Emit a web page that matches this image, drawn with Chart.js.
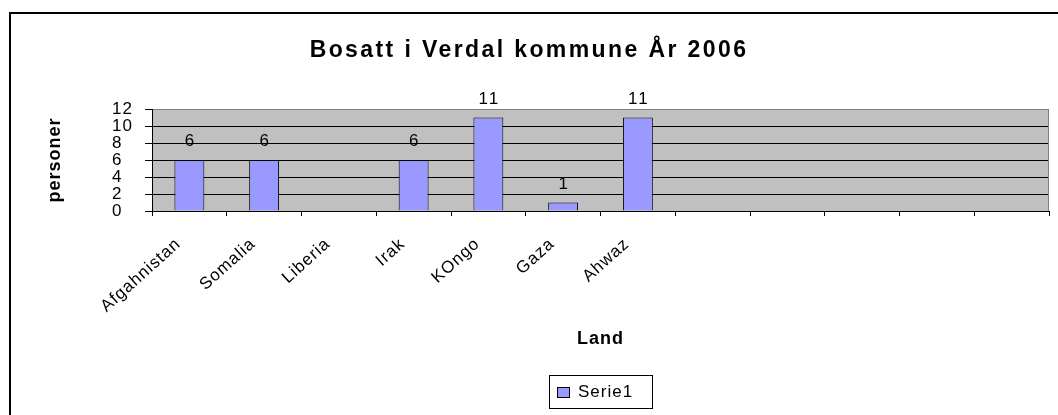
<!DOCTYPE html>
<html>
<head>
<meta charset="utf-8">
<title>Bosatt i Verdal kommune</title>
<script src="https://cdn.jsdelivr.net/npm/chart.js@4"></script>
<style>
    html, body { margin: 0; padding: 0; background: #fff; }
    canvas { display: block; }
</style>
</head>
<body>
<canvas id="chart" width="1058" height="415"></canvas>
<script>
// Data
const chartTitle = 'Bosatt i Verdal kommune År 2006';
const categories = ['Afgahnistan', 'Somalia', 'Liberia', 'Irak', 'KOngo', 'Gaza', 'Ahwaz', '', '', '', '', ''];
const serie1 = [6, 6, null, 6, 11, 1, 11, null, null, null, null, null];
const yTickValues = [0, 2, 4, 6, 8, 10, 12];
const seriesName = 'Serie1';
const xTitle = 'Land';
const yTitle = 'personer';

const FONT = '"Liberation Sans", Arial, sans-serif';
const BAR_COLOR = '#9999ff';

// Excel-ish extras: frame, grey plot area, title, value labels, boxed legend
const excelLook = {
    id: 'excelLook',
    beforeDraw(chart) {
        const { ctx, chartArea: a, width, height } = chart;
        ctx.save();
        ctx.fillStyle = '#fff';
        ctx.fillRect(0, 0, width, height);
        ctx.fillStyle = '#c0c0c0';
        ctx.fillRect(a.left, a.top, a.right - a.left, a.bottom - a.top);
        // outer frame (top + left only, the rest is cut off)
        ctx.fillStyle = '#000';
        ctx.fillRect(9, 12, width - 9, 2);
        ctx.fillRect(9, 12, 2, height - 12);
        // title
        ctx.font = 'bold 23px ' + FONT;
        ctx.letterSpacing = '2.4px';
        ctx.textAlign = 'center';
        ctx.textBaseline = 'middle';
        ctx.fillText(chartTitle, 529, 51);
        ctx.restore();
        // axis texts in the reference are a bit spread out
        ctx.letterSpacing = '1px';
    },
    afterDatasetsDraw(chart) {
        const { ctx } = chart;
        const meta = chart.getDatasetMeta(0);
        ctx.save();
        ctx.font = '17px ' + FONT;
        ctx.letterSpacing = '2px';
        ctx.fillStyle = '#000';
        ctx.textAlign = 'center';
        ctx.textBaseline = 'middle';
        meta.data.forEach((bar, i) => {
            const v = serie1[i];
            if (v === null) return;
            ctx.fillText(String(v), bar.x + 1, bar.y - 18.5);
        });
        ctx.restore();
    },
    afterDraw(chart) {
        const { ctx, chartArea: a } = chart;
        ctx.save();
        // plot area right border
        ctx.strokeStyle = '#808080';
        ctx.lineWidth = 1;
        ctx.beginPath();
        ctx.moveTo(a.right - 0.5, a.top);
        ctx.lineTo(a.right - 0.5, a.bottom);
        ctx.stroke();

        // legend box
        const ds = chart.data.datasets[0];
        const w = 103, h = 33;
        const left = Math.round((a.left + a.right) / 2 - w / 2);
        const top = 375;
        ctx.fillStyle = '#fff';
        ctx.fillRect(left, top, w, h);
        ctx.strokeStyle = '#000';
        ctx.strokeRect(left + 0.5, top + 0.5, w, h);
        ctx.fillStyle = ds.backgroundColor;
        ctx.fillRect(left + 8, top + 12, 13, 11);
        ctx.strokeRect(left + 8.5, top + 12.5, 12, 10);
        ctx.fillStyle = '#000';
        ctx.font = '17px ' + FONT;
        ctx.letterSpacing = '1px';
        ctx.textAlign = 'left';
        ctx.textBaseline = 'middle';
        ctx.fillText(ds.label, left + 29, top + 17);
        ctx.restore();
    }
};

const chart = new Chart(document.getElementById('chart').getContext('2d'), {
    type: 'bar',
    data: {
        labels: categories,
        datasets: [{
            label: seriesName,
            data: serie1,
            backgroundColor: BAR_COLOR,
            borderColor: '#000',
            borderWidth: 1,
            categoryPercentage: 1,
            barPercentage: 0.4
        }]
    },
    options: {
        responsive: false,
        animation: false,
        devicePixelRatio: 1,
        layout: { padding: { top: 109, right: 9, bottom: 65, left: 0 } },
        plugins: {
            legend: { display: false },
            title: { display: false },
            tooltip: { enabled: false }
        },
        scales: {
            x: {
                grid: { offset: true, drawOnChartArea: false, drawTicks: true, tickLength: 5, color: '#000' },
                border: { color: '#000', width: 1 },
                ticks: {
                    autoSkip: false,
                    minRotation: 42,
                    maxRotation: 42,
                    padding: 18,
                    labelOffset: -11,
                    color: '#000',
                    font: { family: FONT, size: 17 }
                },
                title: {
                    display: true,
                    text: xTitle,
                    color: '#000',
                    font: { family: FONT, size: 18, weight: 'bold' },
                    padding: 0
                },
                afterFit(scale) { scale.height = 139; }
            },
            y: {
                min: yTickValues[0],
                max: yTickValues[yTickValues.length - 1],
                ticks: {
                    autoSkip: false,
                    stepSize: yTickValues[1] - yTickValues[0],
                    padding: 12,
                    color: '#000',
                    font: { family: FONT, size: 17, lineHeight: 1 },
                    // single digits line up with the first digit of "10"/"12"
                    callback: v => v < 10 ? v + '\u2007' : String(v)
                },
                grid: {
                    color: c => (c.tick && c.tick.value === yTickValues[yTickValues.length - 1]) ? '#808080' : '#000',
                    tickColor: '#000',
                    tickLength: 7
                },
                border: { color: '#000' },
                title: {
                    display: true,
                    text: yTitle,
                    color: '#000',
                    font: { family: FONT, size: 18, weight: 'bold' },
                    padding: { top: 44 }
                },
                afterFit(scale) { scale.width = 152; }
            }
        }
    },
    plugins: [excelLook]
});
</script>
</body>
</html>
